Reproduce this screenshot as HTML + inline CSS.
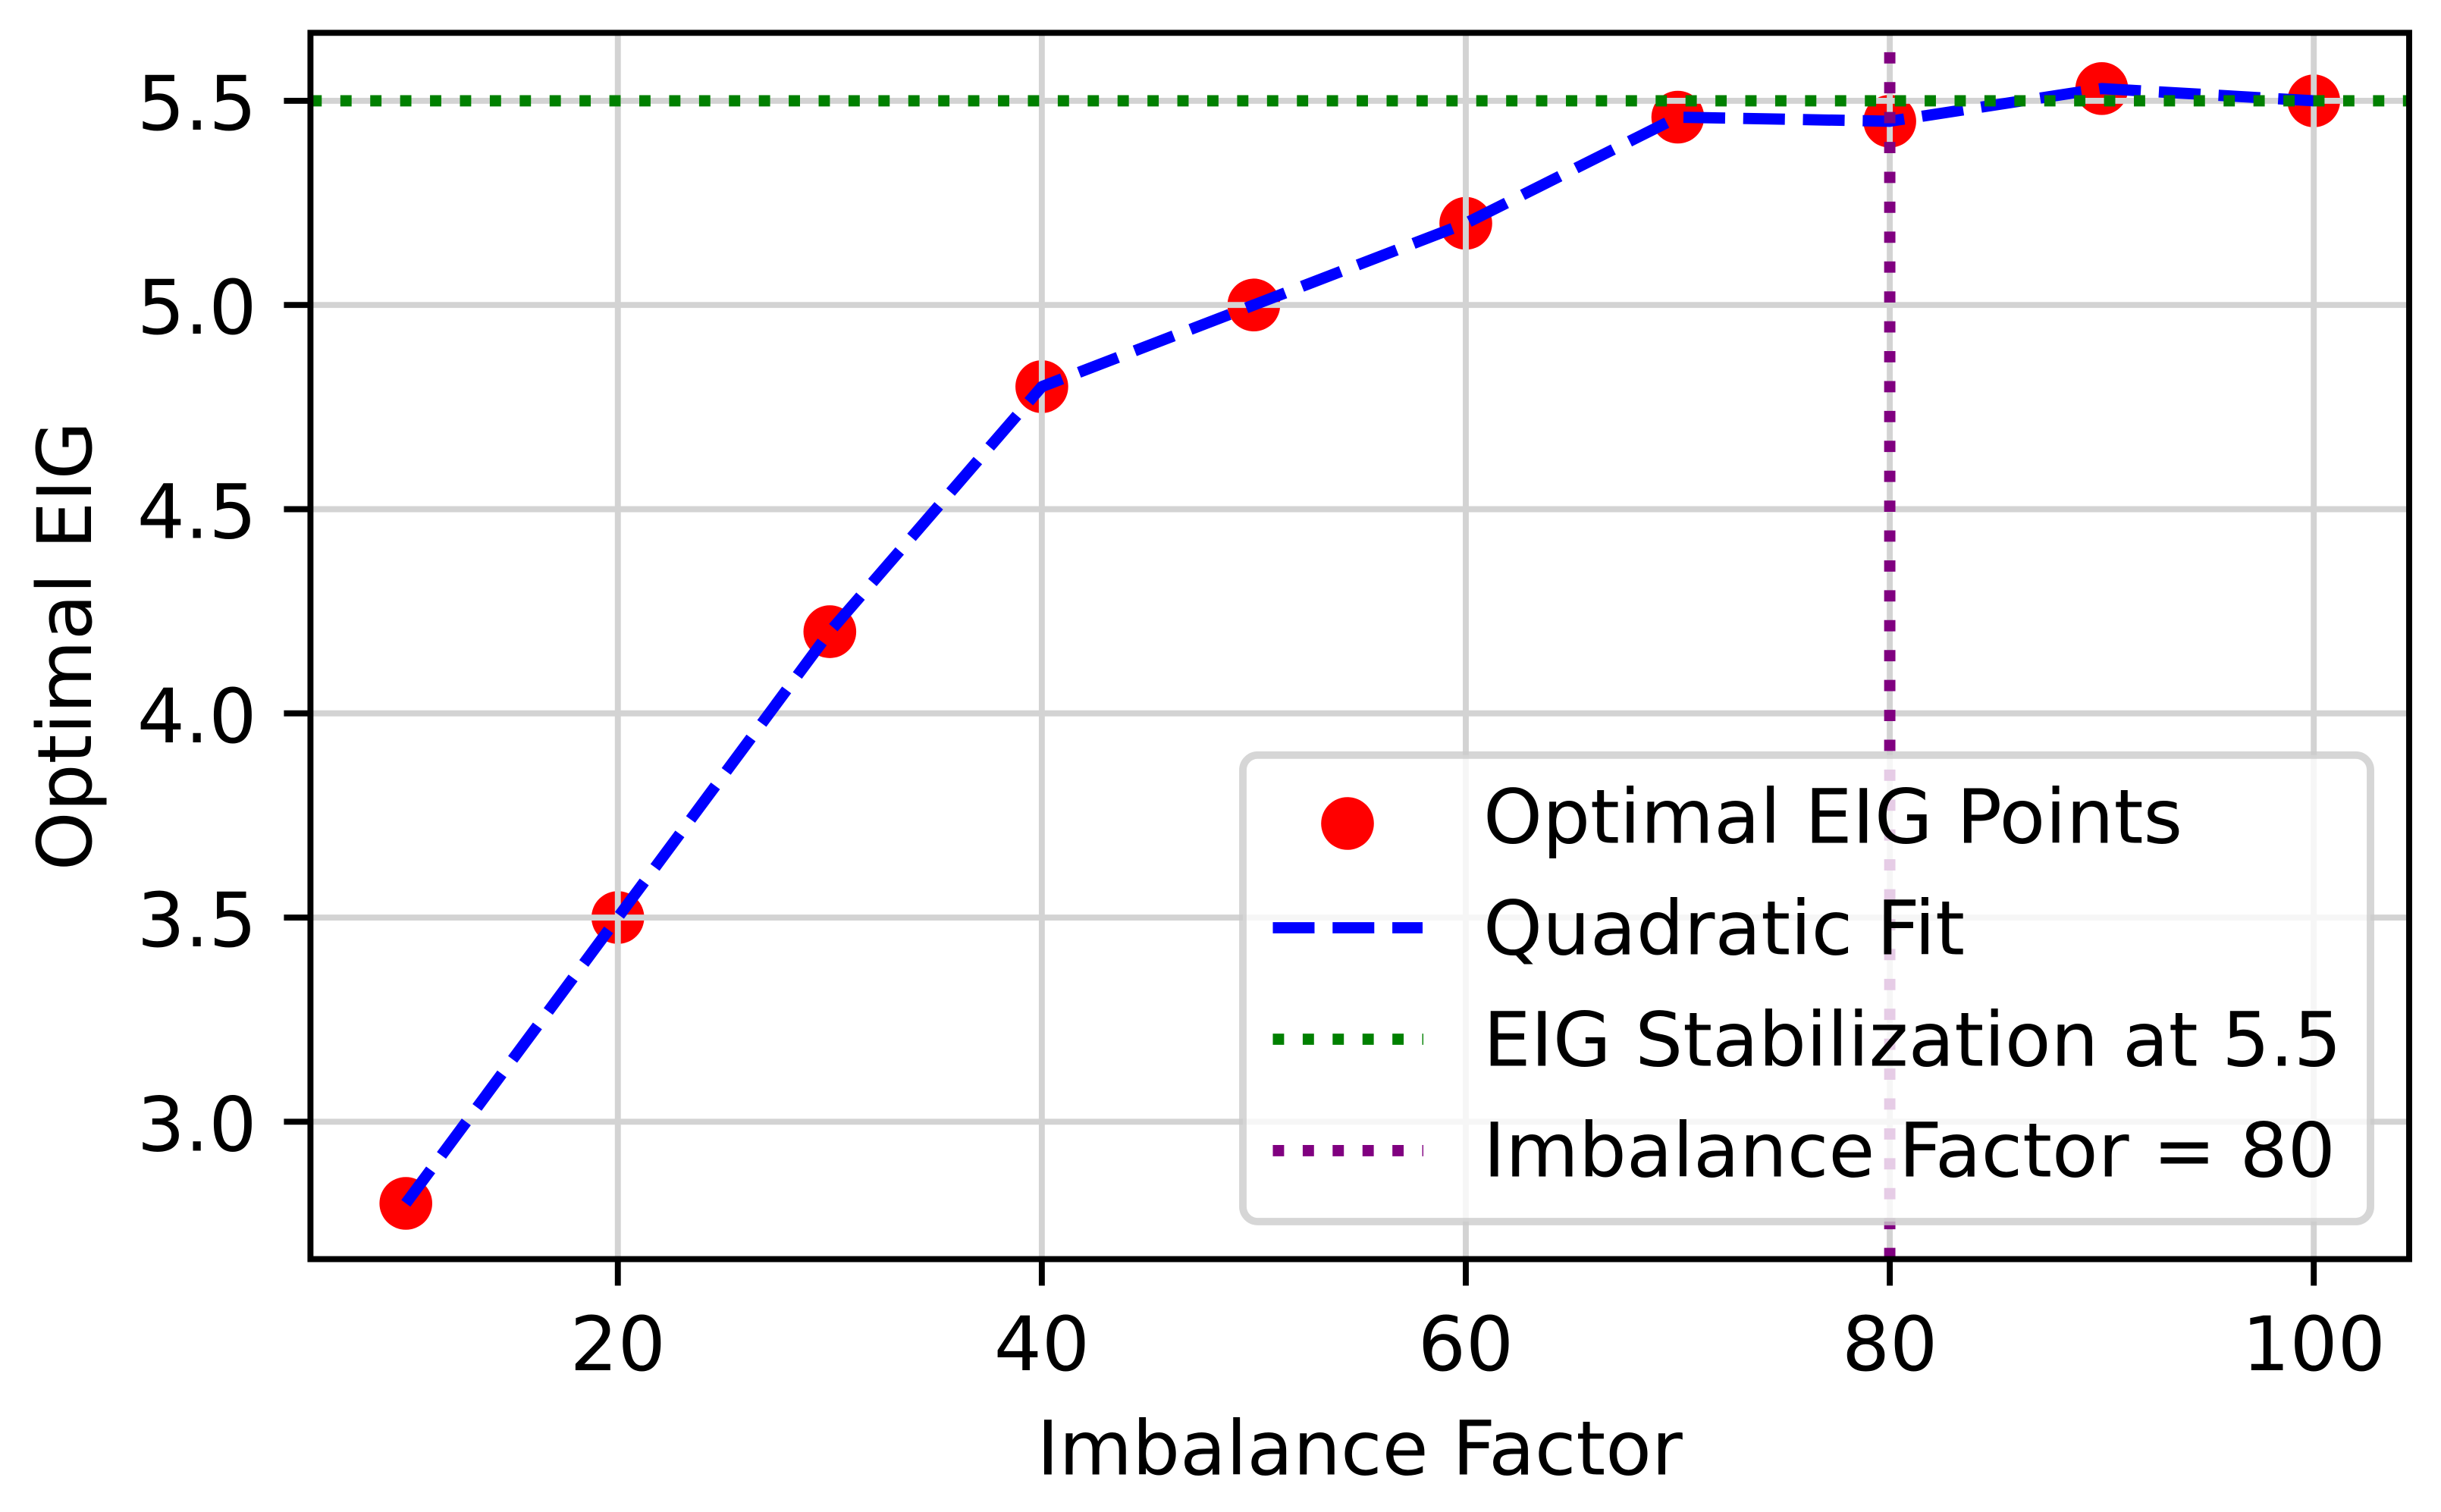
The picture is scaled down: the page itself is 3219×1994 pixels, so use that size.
<!DOCTYPE html>
<html lang="en">
<head>
<meta charset="utf-8">
<title>Optimal EIG vs Imbalance Factor</title>
<style>
  html, body { margin: 0; padding: 0; background: #fff; }
  svg { display: block; }
  text { font-family: "DejaVu Sans", "Liberation Sans", sans-serif; font-size: 99.2px; fill: #000; }
</style>
</head>
<body>
<svg id="chart" xmlns="http://www.w3.org/2000/svg" width="3219" height="1994" viewBox="0 0 3219 1994">
  <defs>
    <clipPath id="plot-clip"><rect x="409.4" y="43.3" width="2767.6" height="1617.2"></rect></clipPath>
  </defs>
  <rect width="3219" height="1994" fill="#fff"></rect>
  <g id="points" clip-path="url(#plot-clip)"></g>
  <g id="grid" clip-path="url(#plot-clip)"></g>
  <g id="series" clip-path="url(#plot-clip)"></g>
  <g id="ticks"></g>
  <rect x="409.4" y="43.3" width="2767.6" height="1617.2" fill="none" stroke="#000" stroke-width="7.9"></rect>
  <text x="1793" y="1944.3" text-anchor="middle">Imbalance Factor</text>
  <text transform="translate(120 852) rotate(-90)" text-anchor="middle">Optimal EIG</text>
  <g>
    <rect x="1639" y="995.8" width="1487" height="615.2" rx="19.7" ry="19.7" fill="#fff" fill-opacity="0.8" stroke="#ccc" stroke-opacity="0.8" stroke-width="9.86"></rect>
    <circle cx="1777" cy="1086" r="34.8" fill="#f00"></circle>
    <line x1="1678.5" x2="1876" y1="1223.5" y2="1223.5" stroke="#00f" stroke-width="14.87" stroke-dasharray="55 23.8"></line>
    <line x1="1678.5" x2="1877" y1="1370.5" y2="1370.5" stroke="#008000" stroke-width="14.87" stroke-dasharray="14.87 24.55"></line>
    <line x1="1678.5" x2="1877" y1="1517.4" y2="1517.4" stroke="#800080" stroke-width="14.87" stroke-dasharray="14.87 24.55"></line>
    <text x="1956" y="1111.5">Optimal EIG Points</text>
    <text x="1956" y="1258.4">Quadratic Fit</text>
    <text x="1956" y="1405.4">EIG Stabilization at 5.5</text>
    <text x="1956" y="1551.4">Imbalance Factor = 80</text>
  </g>
</svg>
<script>
const imbalanceFactors = [10, 20, 30, 40, 50, 60, 70, 80, 90, 100];
const optimalEig = [2.8, 3.5, 4.2, 4.8, 5.0, 5.2, 5.46, 5.45, 5.53, 5.5];
const fitEig = [2.8, 3.5, 4.2, 4.8, 5.0, 5.2, 5.46, 5.45, 5.53, 5.5];
const xTickValues = [20, 40, 60, 80, 100];
const yTickValues = [3.0, 3.5, 4.0, 4.5, 5.0, 5.5];
const xDomain = [5.5, 104.5];
const yDomain = [2.6635, 5.6665];
const stabilizationLevel = 5.5;
const imbalanceMarker = 80;

const NS = 'http://www.w3.org/2000/svg';
const LEFT = 409.4, RIGHT = 3177, TOP = 43.3, BOTTOM = 1660.5;
const xScale = v => LEFT + (v - xDomain[0]) / (xDomain[1] - xDomain[0]) * (RIGHT - LEFT);
const yScale = v => BOTTOM - (v - yDomain[0]) / (yDomain[1] - yDomain[0]) * (BOTTOM - TOP);

function make(tag, attrs, parent) {
  const el = document.createElementNS(NS, tag);
  for (const k in attrs) el.setAttribute(k, attrs[k]);
  parent.appendChild(el);
  return el;
}

const pointsLayer = document.getElementById('points');
const gridLayer = document.getElementById('grid');
const seriesLayer = document.getElementById('series');
const ticksLayer = document.getElementById('ticks');

imbalanceFactors.forEach((f, i) => {
  const dot = make('circle', { cx: xScale(f), cy: yScale(optimalEig[i]), r: 34.8, fill: '#f00' }, pointsLayer);
  
  
});

xTickValues.forEach(v => {
  const x = xScale(v);
  const g = make('line', { x1: x, x2: x, y1: TOP, y2: BOTTOM, stroke: '#d3d3d3', 'stroke-width': 7.9 }, gridLayer);
  
  
  const t = make('line', { x1: x, x2: x, y1: BOTTOM, y2: BOTTOM + 35, stroke: '#000', 'stroke-width': 7.9 }, ticksLayer);
  
  
  const label = make('text', { x: x, y: 1807.2, 'text-anchor': 'middle' }, ticksLayer);
  
  
  label.textContent = String(v);
});

yTickValues.forEach(v => {
  const y = yScale(v);
  const g = make('line', { x1: LEFT, x2: RIGHT, y1: y, y2: y, stroke: '#d3d3d3', 'stroke-width': 7.9 }, gridLayer);
  
  
  const t = make('line', { x1: LEFT - 35, x2: LEFT, y1: y, y2: y, stroke: '#000', 'stroke-width': 7.9 }, ticksLayer);
  
  
  const label = make('text', { x: 338.5, y: y + 38, 'text-anchor': 'end' }, ticksLayer);
  
  
  label.textContent = v.toFixed(1);
});

const fitPath = imbalanceFactors.map((f, i) => xScale(f) + ',' + yScale(fitEig[i])).join(' ');
const fitLine = make('polyline', { points: fitPath, fill: 'none', stroke: '#00f', 'stroke-width': 14.87, 'stroke-dasharray': '55 23.8', 'stroke-linejoin': 'round' }, seriesLayer);



const stabLine = make('line', { x1: LEFT, x2: RIGHT, y1: yScale(stabilizationLevel), y2: yScale(stabilizationLevel), stroke: '#008000', 'stroke-width': 14.87, 'stroke-dasharray': '14.87 24.55' }, seriesLayer);



const markerLine = make('line', { x1: xScale(imbalanceMarker), x2: xScale(imbalanceMarker), y1: BOTTOM, y2: TOP, stroke: '#800080', 'stroke-width': 14.87, 'stroke-dasharray': '14.87 24.55' }, seriesLayer);


</script>
</body>
</html>
